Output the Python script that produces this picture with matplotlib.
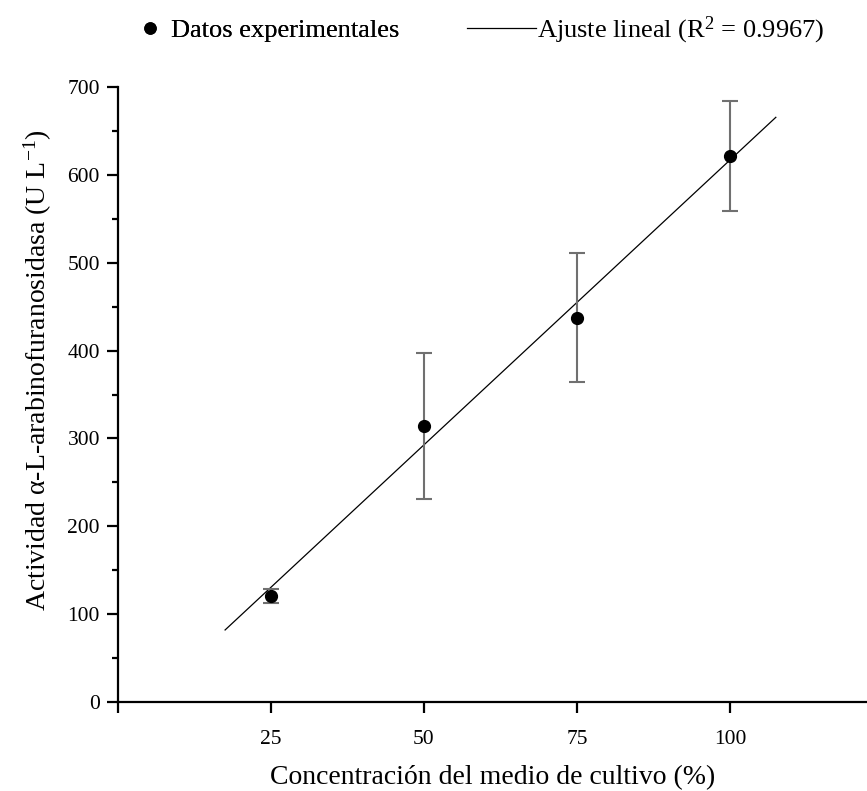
import numpy as np
import matplotlib.pyplot as plt
from matplotlib.lines import Line2D

plt.rcParams['font.family'] = 'Liberation Serif'
plt.rcParams['mathtext.fontset'] = 'custom'
plt.rcParams['mathtext.rm'] = 'Liberation Serif'
plt.rcParams['mathtext.it'] = 'Liberation Serif:italic'

# Data
conc = [25, 50, 75, 100]
actividad = [120.5, 314, 437.5, 621.5]
error = [8, 83, 73, 63]

# fitted line (as drawn)
fit_x = [17.5, 107.5]
fit_y = [82, 665.5]

fig = plt.figure(figsize=(8.67, 7.91), dpi=100)
ax = fig.add_axes([0.1361, 0.1125, 0.8639, 0.7775])

ax.errorbar(conc, actividad, yerr=error, fmt='o', color='black', markersize=8.5,
            ecolor='#707070', elinewidth=1.5, capsize=6, capthick=1.5, zorder=3)
ax.plot(fit_x, fit_y, '-', color='black', lw=0.9)

ax.set_xlim(0, 122.4)
ax.set_ylim(0, 700)
ax.set_xticks([0, 25, 50, 75, 100])
ax.set_xticklabels(['', '25', '50', '75', '100'])
ax.set_yticks(np.arange(0, 701, 100))
ax.set_yticks(np.arange(50, 700, 100), minor=True)

for s in ['top', 'right']:
    ax.spines[s].set_visible(False)
ax.spines['left'].set_linewidth(1.6)
ax.spines['bottom'].set_linewidth(1.6)
ax.tick_params(which='major', direction='out', length=8, width=1.6, labelsize=15.5, pad=5)
ax.tick_params(which='minor', direction='out', length=4.5, width=1.6)
ax.tick_params(axis='x', which='major', pad=12)

ax.set_xlabel('Concentración del medio de cultivo (%)', fontsize=20, labelpad=12)
ax.set_ylabel(r'Actividad α-L-arabinofuranosidasa (U L$^{-1}$)', fontsize=20, labelpad=10)
ax.yaxis.label.set_y(0.54)

# legend, two parts like the original
h_dot = Line2D([], [], marker='o', color='black', linestyle='none', markersize=8)
h_line = Line2D([], [], color='black', lw=0.9)
leg1 = fig.legend([h_dot], ['Datos experimentales'], loc='center left',
                  bbox_to_anchor=(0.158, 0.962), frameon=False, fontsize=19,
                  handlelength=1.0, handletextpad=0.3, borderpad=0, borderaxespad=0)
fig.add_artist(leg1)
fig.legend([h_line], [r'Ajuste lineal (R$^2$ = 0.9967)'], loc='center left',
           bbox_to_anchor=(0.5386, 0.962), frameon=False, fontsize=19,
           handlelength=2.6, handletextpad=0.05, borderpad=0, borderaxespad=0)

fig.savefig('out.png', dpi=100)
